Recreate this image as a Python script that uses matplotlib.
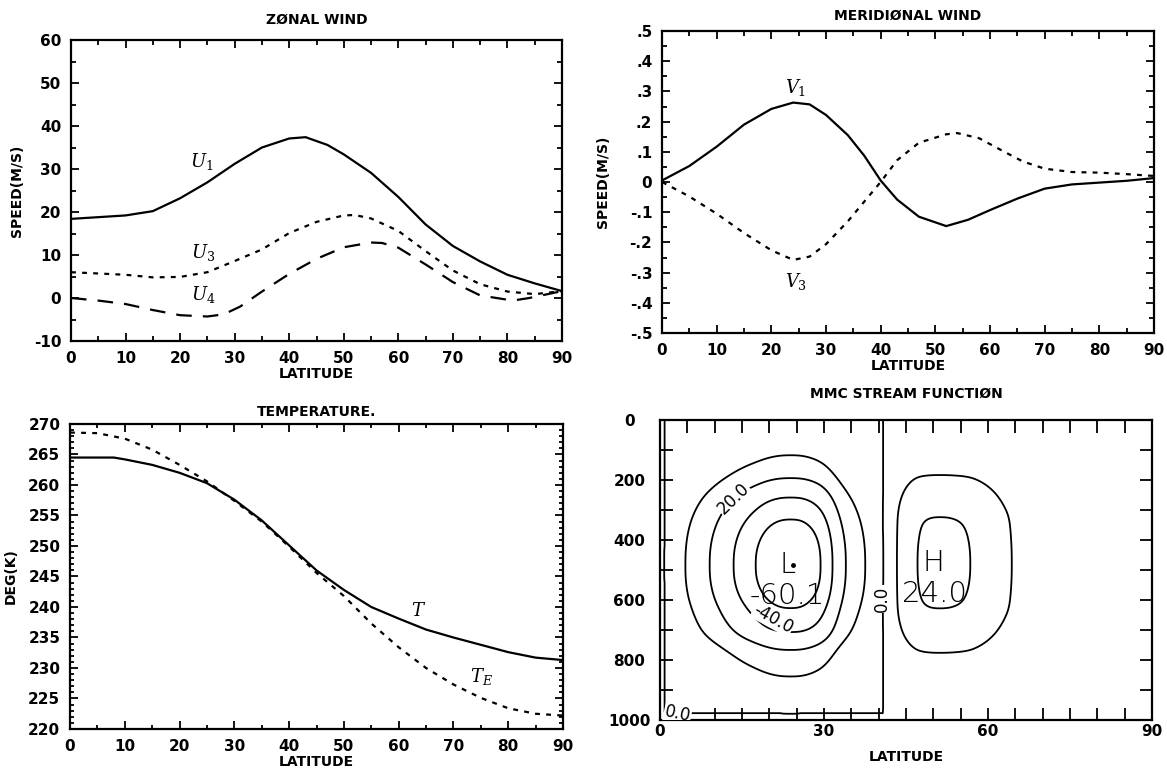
import numpy as np
import matplotlib
matplotlib.use("Agg")
import matplotlib.pyplot as plt
from matplotlib.ticker import MultipleLocator, FixedLocator, FixedFormatter

# ---------------- data ----------------
# Zonal wind (m/s)
lat_u1 = [0, 5, 10, 15, 20, 25, 30, 35, 40, 43, 47, 50, 55, 60, 65, 70, 75, 80, 85, 90]
u1 = [18.4, 18.8, 19.2, 20.2, 23.2, 26.9, 31.2, 35.0, 37.1, 37.4, 35.6, 33.4, 29.1, 23.5, 17.1, 12.1, 8.5, 5.4, 3.4, 1.6]
lat_u3 = [0, 5, 10, 15, 20, 25, 30, 35, 40, 45, 50, 52, 55, 60, 65, 70, 75, 80, 85, 90]
u3 = [6.0, 5.7, 5.4, 4.8, 4.9, 6.0, 8.6, 11.3, 15.1, 17.7, 19.2, 19.3, 18.5, 15.6, 10.9, 6.4, 3.2, 1.5, 0.9, 1.6]
lat_u4 = [0, 5, 10, 15, 20, 25, 28, 31, 35, 40, 45, 50, 55, 57, 60, 65, 70, 75, 81, 84, 87, 90]
u4 = [0.0, -0.6, -1.4, -2.8, -4.0, -4.3, -3.8, -2.0, 1.5, 5.6, 9.1, 11.8, 12.9, 12.8, 11.7, 7.8, 3.7, 0.6, -0.6, 0.0, 0.8, 1.6]

# Meridional wind (m/s)
lat_v1 = [0, 5, 10, 15, 20, 24, 27, 30, 34, 37, 40, 43, 47, 52, 56, 60, 65, 70, 75, 80, 85, 90]
v1 = [0.005, 0.053, 0.117, 0.190, 0.242, 0.263, 0.257, 0.222, 0.155, 0.087, 0.005, -0.058, -0.115,
      -0.146, -0.125, -0.093, -0.055, -0.022, -0.008, -0.002, 0.004, 0.013]
lat_v3 = [0, 5, 10, 15, 20, 24, 27, 30, 34, 37, 40, 43, 47, 52, 54, 58, 62, 66, 70, 75, 80, 85, 90]
v3 = [0.0, -0.048, -0.105, -0.169, -0.226, -0.258, -0.247, -0.206, -0.130, -0.065, 0.0, 0.072, 0.130,
      0.158, 0.162, 0.145, 0.106, 0.068, 0.044, 0.033, 0.031, 0.026, 0.020]

# Temperature (K)
lat_t = [0, 5, 8, 10, 15, 20, 25, 30, 35, 40, 45, 50, 55, 60, 65, 70, 75, 80, 85, 90]
t_air = [264.5, 264.5, 264.5, 264.2, 263.3, 262.0, 260.3, 257.6, 254.2, 250.1, 246.0, 242.8, 240.0,
         238.1, 236.3, 235.0, 233.8, 232.6, 231.7, 231.3]
lat_te = [0, 5, 10, 15, 20, 25, 30, 35, 40, 45, 50, 55, 60, 65, 70, 75, 80, 85, 90]
t_e = [268.6, 268.5, 267.6, 265.8, 263.3, 260.6, 257.4, 254.0, 249.9, 245.6, 241.8, 237.3, 233.4,
       230.0, 227.3, 225.1, 223.4, 222.5, 222.2]

# MMC stream function: cell extremes and profile knots
psi_low = -60.1
psi_high = 24.0
cell_boundary_lat = 41.0
lat_knots_low = [0, 1.2, 4.5, 9.1, 13.5, 17.6, 24, 29.5, 31.5, 33.8, 37.6, 41, 42, 90]
prof_knots_low = [-0.03, 0, 0.166, 0.333, 0.5, 0.666, 1.0, 0.666, 0.5, 0.333, 0.166, 0, -0.01, -0.01]
p_knots_low = [0, 121, 195, 257, 331, 484, 626, 711, 762, 853, 975, 1000]
pprof_knots_low = [0, 0.166, 0.333, 0.5, 0.666, 1.0, 0.666, 0.5, 0.333, 0.166, 0, -0.03]
lat_knots_high = [0, 41, 43.3, 47, 51, 56.6, 63.4, 75, 90]
prof_knots_high = [0, 0, 0.417, 0.833, 1.0, 0.833, 0.417, 0.12, 0]
p_knots_high = [0, 195, 325, 480, 626, 762, 1000]
pprof_knots_high = [0, 0.417, 0.833, 1.0, 0.833, 0.417, 0]
contour_levels = [-40, -30, -20, -10, 0, 10, 20]

# ---------------- style ----------------
plt.rcParams['font.family'] = ['DejaVu Sans']
plt.rcParams['mathtext.fontset'] = 'dejavuserif'
TF = dict(fontsize=10, fontweight='bold')
LF = dict(fontsize=10, fontweight='bold')
TICKF = 11

fig = plt.figure(figsize=(11.67, 7.71), dpi=100)
W, H = 1167.0, 771.0


def add_ax(l, r, t, b):
    return fig.add_axes([l / W, 1 - b / H, (r - l) / W, (b - t) / H])


def style(ax, lw=1.6):
    for s in ax.spines.values():
        s.set_linewidth(lw)
    ax.tick_params(which='both', direction='in', top=True, right=True, width=1.3,
                   labelsize=TICKF)
    ax.tick_params(which='major', length=6, pad=7)
    ax.tick_params(which='minor', length=3.5)
    for lab in ax.get_xticklabels() + ax.get_yticklabels():
        lab.set_fontweight('bold')


mlabel = dict(fontsize=13, ha='center', va='center')

# Panel 1: zonal wind
ax1 = add_ax(71, 562, 40, 341)
ax1.plot(lat_u1, u1, color='k', lw=1.6)
ax1.plot(lat_u3, u3, color='k', lw=1.6, linestyle=(0, (2.2, 2.8)))
ax1.plot(lat_u4, u4, color='k', lw=1.6, linestyle=(0, (7, 5)))
ax1.set_xlim(0, 90)
ax1.set_ylim(-10, 60)
ax1.xaxis.set_major_locator(MultipleLocator(10))
ax1.xaxis.set_minor_locator(MultipleLocator(5))
ax1.yaxis.set_major_locator(FixedLocator([-10, 0, 10, 20, 30, 40, 50, 60]))
ax1.yaxis.set_major_formatter(FixedFormatter(['-10', '0', '10', '20', '30', '40', '50', '60']))
ax1.yaxis.set_minor_locator(MultipleLocator(5))
style(ax1)
ax1.set_title('ZØNAL WIND', pad=12, **TF)
ax1.set_xlabel('LATITUDE', labelpad=1, **LF)
ax1.set_ylabel('SPEED(M/S)', **LF)
ax1.yaxis.set_label_coords(-0.095, 0.5)
ax1.text(24.0, 31.8, r'$U_1$', **mlabel)
ax1.text(24.2, 10.5, r'$U_3$', **mlabel)
ax1.text(24.2, 0.8, r'$U_4$', **mlabel)

# Panel 2: meridional wind
ax2 = add_ax(662, 1154, 31, 333)
ax2.plot(lat_v1, v1, color='k', lw=1.6)
ax2.plot(lat_v3, v3, color='k', lw=1.6, linestyle=(0, (2.2, 2.8)))
ax2.set_xlim(0, 90)
ax2.set_ylim(-0.5, 0.5)
ax2.xaxis.set_major_locator(MultipleLocator(10))
ax2.xaxis.set_minor_locator(MultipleLocator(5))
vt = [-0.5, -0.4, -0.3, -0.2, -0.1, 0, 0.1, 0.2, 0.3, 0.4, 0.5]
ax2.yaxis.set_major_locator(FixedLocator(vt))
ax2.yaxis.set_major_formatter(FixedFormatter(['-.5', '-.4', '-.3', '-.2', '-.1', '0', '.1', '.2', '.3', '.4', '.5']))
ax2.yaxis.set_minor_locator(MultipleLocator(0.05))
style(ax2)
ax2.set_title('MERIDIØNAL WIND', pad=8, **TF)
ax2.set_xlabel('LATITUDE', labelpad=1, **LF)
ax2.set_ylabel('SPEED(M/S)', **LF)
ax2.yaxis.set_label_coords(-0.105, 0.5)
ax2.text(24.4, 0.314, r'$V_1$', **mlabel)
ax2.text(24.6, -0.331, r'$V_3$', **mlabel)

# Panel 3: temperature
ax3 = add_ax(70, 563, 424, 729)
ax3.plot(lat_t, t_air, color='k', lw=1.6)
ax3.plot(lat_te, t_e, color='k', lw=1.6, linestyle=(0, (2.2, 2.8)))
ax3.set_xlim(0, 90)
ax3.set_ylim(220, 270)
ax3.xaxis.set_major_locator(MultipleLocator(10))
ax3.xaxis.set_minor_locator(MultipleLocator(5))
ax3.yaxis.set_major_locator(MultipleLocator(5))
ax3.yaxis.set_minor_locator(MultipleLocator(1))
style(ax3)
ax3.tick_params(which='minor', length=3)
ax3.set_title('TEMPERATURE.', pad=6, **TF)
ax3.set_xlabel('LATITUDE', labelpad=1, **LF)
ax3.set_ylabel('DEG(K)', **LF)
ax3.yaxis.set_label_coords(-0.105, 0.5)
ax3.text(63.6, 239.4, r'$T$', **mlabel)
ax3.text(75.1, 228.6, r'$T_E$', **mlabel)

# Panel 4: MMC stream function
ax4 = add_ax(660, 1152, 420, 720)
lat_grid = np.linspace(0, 90, 361)
p_grid = np.linspace(0, 1000, 201)


def smooth(y, sigma):
    k = np.arange(-3 * sigma, 3 * sigma + 1)
    w = np.exp(-0.5 * (k / sigma) ** 2)
    w /= w.sum()
    yp = np.pad(y, len(k) // 2, mode='edge')
    return np.convolve(yp, w, mode='valid')


def cell(f, g, n):
    # rounded cell: value f along the latitude axis, g along the pressure axis
    u = np.clip(1 - f, 0, None)[None, :]
    v = np.clip(1 - g, 0, None)[:, None]
    return 1 - (u ** n + v ** n) ** (1.0 / n)


f_low = smooth(np.interp(lat_grid, lat_knots_low, prof_knots_low), 4)
g_low = smooth(np.interp(p_grid, p_knots_low, pprof_knots_low), 4)
f_high = smooth(np.interp(lat_grid, lat_knots_high, prof_knots_high), 4)
g_high = smooth(np.interp(p_grid, p_knots_high, pprof_knots_high), 4)
edge_low = 0.12 * np.minimum(f_low[None, :], g_low[:, None])
psi_l = psi_low * np.maximum(cell(f_low, g_low, 2.3), edge_low)
psi_h = psi_high * np.maximum(cell(f_high, g_high, 2.2), 0) + 0.5
psi = np.where(lat_grid[None, :] < cell_boundary_lat, psi_l, psi_h)
ax4.contour(lat_grid, p_grid, psi, levels=contour_levels, colors='k',
            linewidths=1.3, linestyles='solid')
ax4.set_xlim(0, 90)
ax4.set_ylim(1000, 0)
ax4.xaxis.set_major_locator(MultipleLocator(30))
ax4.xaxis.set_minor_locator(MultipleLocator(5))
ax4.yaxis.set_major_locator(MultipleLocator(200))
ax4.yaxis.set_minor_locator(MultipleLocator(100))
style(ax4)
ax4.tick_params(which='both', length=9)
ax4.tick_params(axis='y', which='major', pad=22)
ax4.tick_params(axis='x', which='major', pad=3)
for lab in ax4.get_yticklabels():
    lab.set_horizontalalignment('center')
ax4.set_title('MMC STREAM FUNCTIØN', pad=16, **TF)
ax4.set_xlabel('LATITUDE', labelpad=8, **LF)
big = dict(fontsize=21, ha='center', va='center', fontweight='light')
ax4.text(23.4, 484, 'L', **big)
ax4.text(50.1, 478, 'H', **big)
ax4.text(23.3, 586, '-60.1', **big)
ax4.text(50.3, 580, '24.0', **big)
ax4.plot([24.3], [484], marker='o', ms=2.5, color='k')
wb = dict(facecolor='white', edgecolor='none', pad=0.5)
ax4.text(13.5, 263, '20.0', fontsize=12, rotation=44, ha='center', va='center', bbox=wb)
ax4.text(20.7, 662, '-40.0', fontsize=12, rotation=-29, ha='center', va='center', bbox=wb)
ax4.text(40.6, 597, '0.0', fontsize=12, rotation=90, ha='center', va='center', bbox=wb)
ax4.text(3.2, 980, '0.0', fontsize=12, rotation=-12, ha='center', va='center', bbox=wb,
         clip_on=True)

fig.savefig('out.png', dpi=100)
